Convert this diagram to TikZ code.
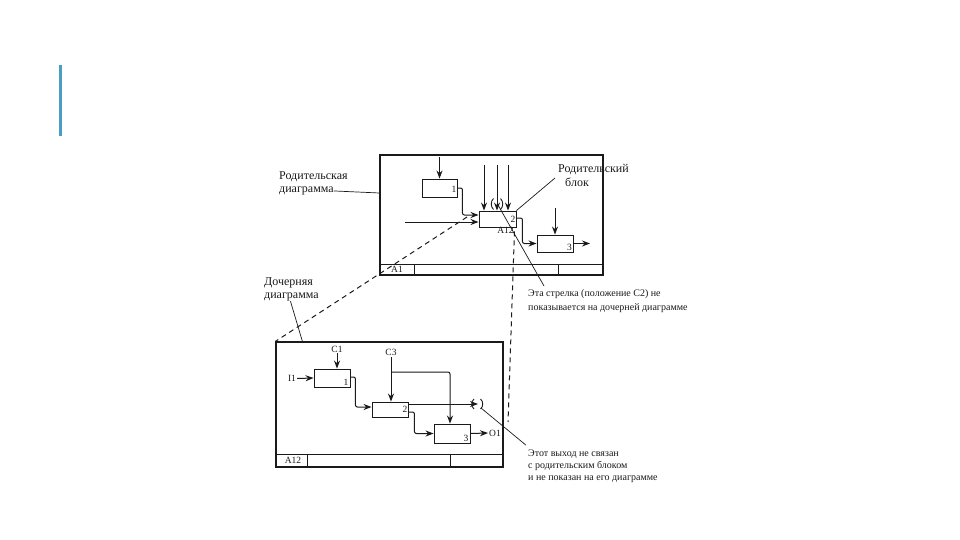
\documentclass[tikz,border=0pt]{standalone}
\usepackage{fontspec}
\setmainfont{Liberation Serif}
\usetikzlibrary{arrows.meta,calc}
\definecolor{barblue}{HTML}{4A9EC4}
\definecolor{ink}{HTML}{1A1A1A}
\begin{document}
\begin{tikzpicture}[x=1pt,y=-1pt,
  frame/.style={draw=ink, line width=1.2pt, inner sep=0pt},
  strip/.style={draw=ink, line width=0.8pt},
  thick bottom/.style={draw=ink, line width=2.2pt},
  box/.style={draw=ink, line width=0.9pt, inner sep=0pt},
  arr/.style={draw=ink, -{Stealth[length=8pt,width=6pt]}, line width=1pt, rounded corners=2pt},
  lead/.style={draw=ink, line width=0.7pt},
  dsh/.style={draw=ink, line width=1pt, dash pattern=on 5pt off 4pt},
  paren/.style={draw=ink, line width=0.9pt},
  num/.style={text=ink, font=\fontsize{9.5}{10}\selectfont, inner sep=1pt},
  note/.style={text=ink, font=\fontsize{10}{11}\selectfont, inner sep=0pt},
  big/.style={text=ink, font=\fontsize{12}{13}\selectfont, inner sep=0pt}]
\useasboundingbox (0,0) rectangle (960,540);
\fill[white] (0,0) rectangle (960,540);
% accent bar
\fill[barblue] (59,65) rectangle (62,136);

% ---------------- parent diagram ----------------
\node[frame, minimum width=223pt, minimum height=120pt] (pf) at (491.5,215) {};
\draw[strip] (380,264) -- (603,264);
\draw[strip] (414,264) -- (414,275);
\draw[strip] (558,264) -- (558,275);
\draw[thick bottom] (380,275) -- (603,275);
\node[num] (pfa) at (397,269.5) {A1};

\node[box, minimum width=35pt, minimum height=18pt] (p1) at (439.5,188) {};
\node[box, minimum width=37pt, minimum height=16pt] (p2) at (497.5,219) {};
\node[box, minimum width=36pt, minimum height=17pt] (p3) at (555,243.5) {};
\node[num, anchor=east] (p1n) at ([yshift=-1pt]p1.east) {1};
\node[num, anchor=east] (p2n) at (p2.east) {2};
\node[num, anchor=south east, inner sep=1.5pt] (p3n) at (p3.south east) {3};
\node[num, anchor=north] (p2id) at ([xshift=8pt,yshift=1pt]p2.south) {A12};

\coordinate (pc1) at (439.5,157);
\draw[arr] (pc1) -- (p1.north);
\draw[arr] (p1.east) -- ++(5,0) |- ([yshift=4pt]p2.west);
\coordinate (pin) at (405,222);
\draw[arr] (pin) -- (pin -| p2.west);
\coordinate (pt1) at (484,165);
\coordinate (pt2) at (497,165);
\coordinate (pt3) at (508,165);
\draw[arr] (pt1) -- (pt1 |- p2.north);
\draw[arr] (pt2) -- (pt2 |- p2.north);
\draw[arr] (pt3) -- (pt3 |- p2.north);
% tunnel parentheses around C2
\draw[paren] (493.5,198.5) .. controls (490.5,201.5) and (490.5,206.5) .. (493.5,209.5);
\draw[paren] (500.5,198.5) .. controls (503.5,201.5) and (503.5,206.5) .. (500.5,209.5);
\draw[arr] ([yshift=1pt]p2.east) -- ++(6,0) |- (p3.west);
\coordinate (pc3) at (555,208);
\draw[arr] (pc3) -- (p3.north);
\coordinate (p3o) at (590,243.5);
\draw[arr] (p3.east) -- (p3o);

% parent labels
\node[big, anchor=base west] (lp1) at (279,179.5) {Родительская};
\node[big, anchor=base west] (lp2) at (279,192.5) {диаграмма};
\draw[lead] (lp2.east) -- ([yshift=22pt]pf.west);

\node[big, anchor=base west] (lb1) at (558,172) {Родительский};
\node[big, anchor=base west] (lb2) at (565,186) {блок};
\coordinate (lbs) at (555,178);
\draw[lead] (lbs) -- (p2.north east);

\node[note, anchor=base west] (ln1) at (528,296) {Эта стрелка (положение C2) не};
\node[note, anchor=base west] (ln2) at (528,310) {показывается на дочерней диаграмме};
\coordinate (lns) at (498,205);
\coordinate (lne) at (544,286);
\draw[lead] (lns) -- (lne);

% ---------------- child diagram ----------------
\node[frame, minimum width=227pt, minimum height=125pt] (cf) at (389.5,404.5) {};
\draw[strip] (276,454) -- (503,454);
\draw[strip] (307,454) -- (307,467);
\draw[strip] (450,454) -- (450,467);
\draw[thick bottom] (276,467) -- (503,467);
\node[num] (cfa) at (293,460.5) {A12};

\node[box, minimum width=36pt, minimum height=18pt] (c1) at (332,378) {};
\node[box, minimum width=36pt, minimum height=15pt] (c2) at (390,409.5) {};
\node[box, minimum width=36pt, minimum height=19pt] (c3) at (452,433.5) {};
\node[num, anchor=south east, inner sep=2pt] (c1n) at (c1.south east) {1};
\node[num, anchor=east] (c2n) at (c2.east) {2};
\node[num, anchor=south east, inner sep=2pt] (c3n) at (c3.south east) {3};

\node[num] (i1) at (292,378.5) {I1};
\node[num] (cc1) at (337,349) {C1};
\node[num] (cc3) at (391,352.5) {C3};
\node[num] (o1) at (495,433) {O1};

\draw[arr] (i1.east) -- (c1.west);
\draw[arr] (cc1.south) -- (cc1.south |- c1.north);
\draw[arr] ([yshift=1pt]c1.east) -- ++(5,0) |- ([yshift=2.5pt]c2.west);
\draw[arr] (cc3.south) -- (cc3.south |- c2.north);
\draw[arr] (cc3.south |- 0,372) -| ([xshift=-2pt]c3.north);
\coordinate (tun) at (478,404);
\draw[arr] ([yshift=5.5pt]c2.east) -- (tun);
\draw[paren] (474,399) .. controls (471,401.5) and (471,406.5) .. (474,409);
\draw[paren] (480.5,399) .. controls (483.5,401.5) and (483.5,406.5) .. (480.5,409);
\draw[arr] ([yshift=-2.5pt]c2.east) -- ++(6,0) |- (c3.west);
\draw[arr] (c3.east) -- (o1.west);

% child labels
\node[big, anchor=base west] (lc1) at (264,285.5) {Дочерняя};
\node[big, anchor=base west] (lc2) at (264,298.5) {диаграмма};
\draw[lead] ([xshift=-1pt]lc2.south) -- ([xshift=27pt]cf.north west);

\node[note, anchor=base west] (lt1) at (528,456) {Этот выход не связан};
\node[note, anchor=base west] (lt2) at (528,468) {с родительским блоком};
\node[note, anchor=base west] (lt3) at (528,480) {и не показан на его диаграмме};
\draw[lead] (481,408) -- ([xshift=-2pt,yshift=4pt]lt1.north west);

% dashed correspondence lines
\coordinate (dl) at (467,217);
\draw[dsh] (dl) -- (cf.north west);
\coordinate (dr) at (508,422);
\draw[dsh] ([xshift=-2pt,yshift=-4pt]p2.south east) -- (dr);
\end{tikzpicture}
\end{document}
